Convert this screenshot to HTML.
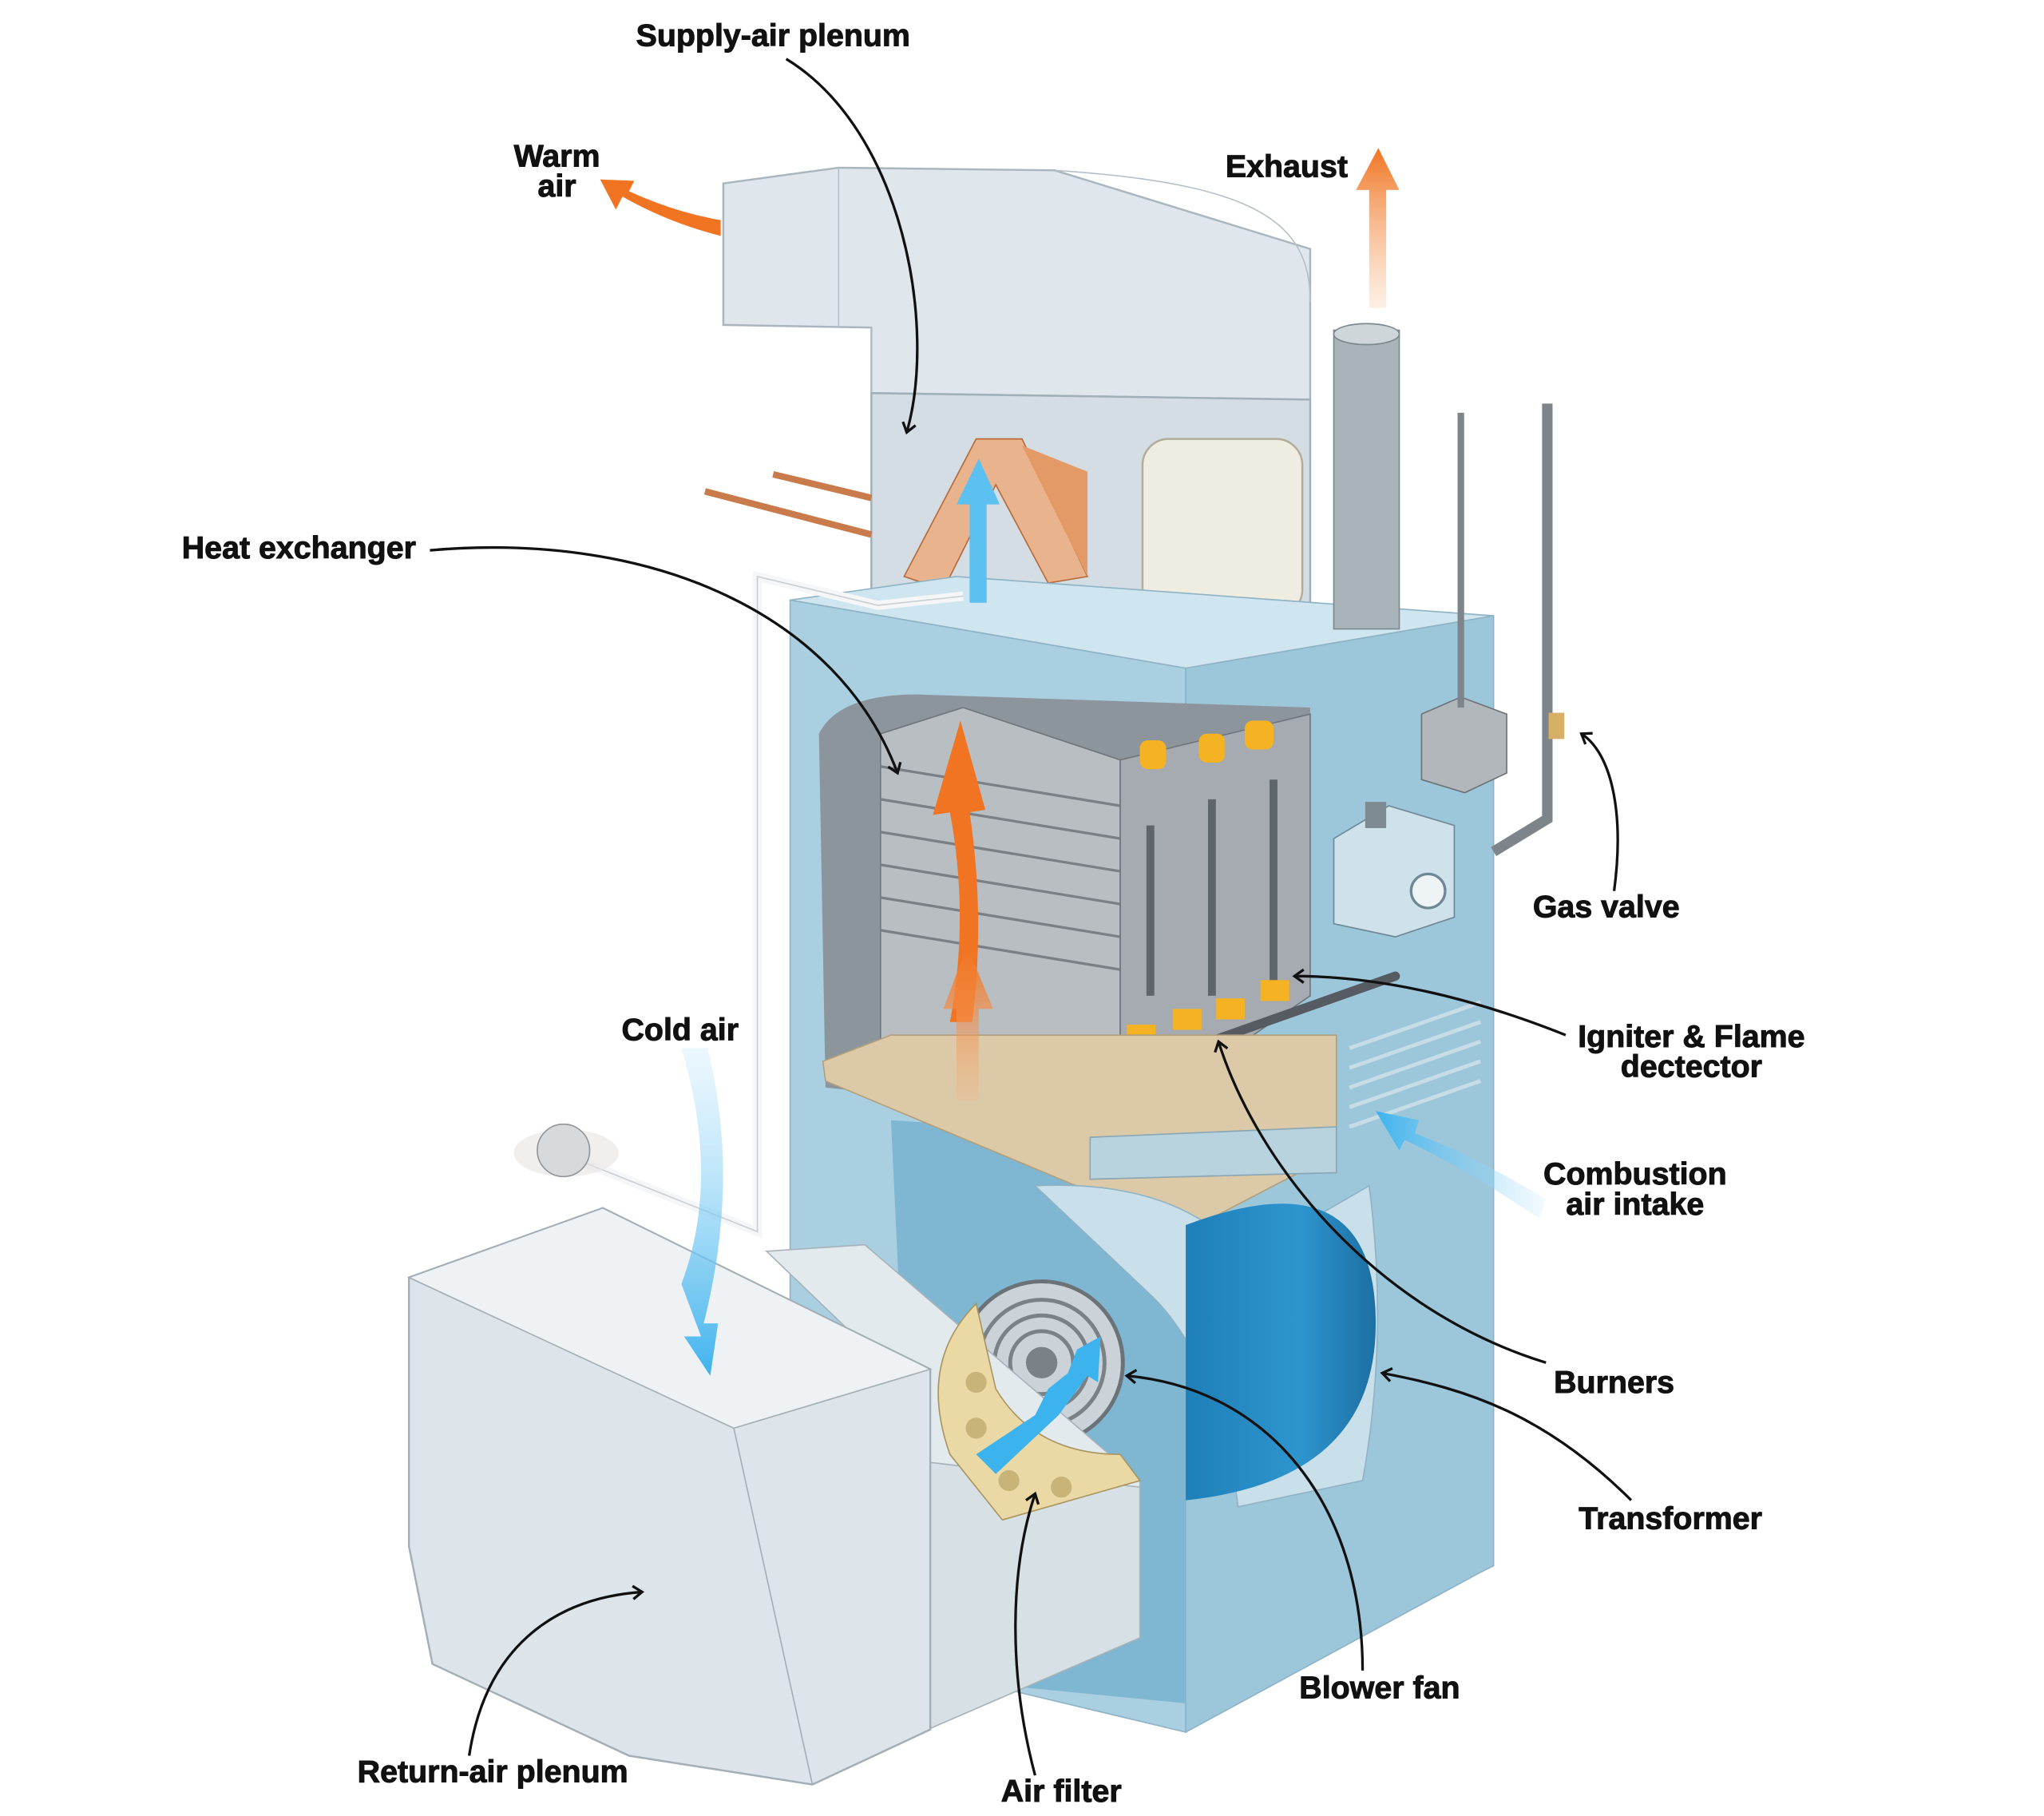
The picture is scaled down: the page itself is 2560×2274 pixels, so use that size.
<!DOCTYPE html>
<html><head><meta charset="utf-8"><style>
html,body{margin:0;padding:0;background:#fff}
svg{display:block}
text{font-family:"Liberation Sans",sans-serif;font-weight:bold;font-size:24px;fill:#111;text-anchor:middle;stroke:#111;stroke-width:0.6px}
</style></head><body>
<svg width="2560" height="2274" viewBox="0 0 1560 1386" xmlns="http://www.w3.org/2000/svg">
<defs>
<marker id="ah" markerWidth="12" markerHeight="12" refX="9" refY="6" orient="auto" markerUnits="userSpaceOnUse">
<path d="M2,1 L9,6 L2,11" fill="none" stroke="#111" stroke-width="2"/></marker>
<linearGradient id="og" x1="0" y1="1" x2="0" y2="0"><stop offset="0" stop-color="#f7b07a" stop-opacity="0.2"/><stop offset="1" stop-color="#f07422"/></linearGradient>
<linearGradient id="bg" x1="0" y1="0" x2="0" y2="1"><stop offset="0" stop-color="#bfe6fb" stop-opacity="0.3"/><stop offset="1" stop-color="#3db3ee"/></linearGradient>
<linearGradient id="bgh" x1="1" y1="0" x2="0" y2="0"><stop offset="0" stop-color="#bfe6fb" stop-opacity="0.2"/><stop offset="1" stop-color="#3db3ee"/></linearGradient>
<linearGradient id="blow" x1="0" y1="0" x2="1" y2="0"><stop offset="0" stop-color="#1f7fb8"/><stop offset="0.6" stop-color="#2e95cf"/><stop offset="1" stop-color="#1c6fa3"/></linearGradient>
</defs>

<polygon points="552,140 640,128 805,130 1000,190 1000,305 665,300 665,250 552,248" fill="#dfe7ec" stroke="#aab6bd" stroke-width="1.5"/>
<path d="M640,128 L640,250 M665,250 L665,300 M805,130 C960,140 1000,170 1000,230" fill="none" stroke="#b4c0c7"/>
<polygon points="665,300 1000,305 1000,460 840,495 665,465" fill="#d3dde3" stroke="#9fb0b9" stroke-width="1.5"/>
<polygon points="690,440 745,335 780,335 830,440 800,445 760,370 720,450" fill="#e9b38d" stroke="#b76a3a"/>
<polygon points="780,340 830,360 830,440" fill="#e39a66"/>
<rect x="872" y="335" width="122" height="135" rx="20" fill="#efece2" stroke="#b3ac98" stroke-width="1.5"/>
<line x1="538" y1="375" x2="665" y2="408" stroke="#c97b4b" stroke-width="5"/>
<line x1="590" y1="362" x2="665" y2="380" stroke="#c97b4b" stroke-width="5"/>

<polygon points="603,458 730,440 1140,470 905,510" fill="#cfe5ef" stroke="#8fb3c5"/>
<polygon points="603,458 905,510 905,1322 603,1250" fill="#a9cfe1" stroke="#8fb3c5"/>
<polygon points="905,510 1140,470 1140,1195 1130,1200 905,1322" fill="#9cc6da" stroke="#8fb3c5"/>
<path d="M625,560 Q640,530 700,530 L1000,540 L1000,730 L905,760 L905,860 L630,830 Z" fill="#8d959c"/>
<path d="M680,855 L905,870 L905,1300 L700,1280 Z" fill="#7fb6d2"/>
<polygon points="672,560 735,540 855,580 855,860 672,800" fill="#b9bec3" stroke="#6f767c"/>
<g stroke="#7a8086" stroke-width="2">
<line x1="672" y1="585" x2="855" y2="615"/><line x1="672" y1="610" x2="855" y2="640"/>
<line x1="672" y1="635" x2="855" y2="665"/><line x1="672" y1="660" x2="855" y2="690"/>
<line x1="672" y1="685" x2="855" y2="715"/><line x1="672" y1="710" x2="855" y2="740"/>
</g>
<polygon points="855,580 1000,545 1000,760 855,860" fill="#a5abb1" stroke="#6f767c"/>
<g stroke="#5e656b" stroke-width="6">
<line x1="878" y1="630" x2="878" y2="760"/><line x1="925" y1="610" x2="925" y2="760"/><line x1="972" y1="595" x2="972" y2="750"/>
</g>
<g fill="#f5b324"><rect x="870" y="565" width="20" height="22" rx="6"/><rect x="915" y="560" width="20" height="22" rx="6"/><rect x="950" y="550" width="22" height="22" rx="6"/>
<rect x="860" y="782" width="22" height="16"/><rect x="895" y="770" width="22" height="16"/><rect x="928" y="762" width="22" height="16"/><rect x="962" y="748" width="22" height="16"/></g>
<line x1="875" y1="812" x2="1065" y2="745" stroke="#555b61" stroke-width="7" stroke-linecap="round"/>
<polygon points="628,810 680,790 1020,790 1020,880 905,940 630,825" fill="#dcc9a8" stroke="#b49f7b"/>
<polygon points="832,868 1020,860 1020,895 832,900" fill="#b8d2de" stroke="#8aa7b6"/>
<g stroke="#c6dce7" stroke-width="3">
<line x1="1030" y1="800" x2="1130" y2="765"/><line x1="1030" y1="815" x2="1130" y2="780"/><line x1="1030" y1="830" x2="1130" y2="795"/>
<line x1="1030" y1="845" x2="1130" y2="810"/><line x1="1030" y1="860" x2="1130" y2="825"/></g>
<path d="M790,905 Q900,900 950,960 L1045,905 Q1060,1020 1040,1130 L945,1150 Q930,1040 880,990 Z" fill="#c9e0ea" stroke="#8fb3c5"/>
<path d="M905,935 Q1050,880 1050,1010 Q1050,1130 905,1145 Z" fill="url(#blow)"/>
<circle cx="795" cy="1040" r="62" fill="#ccd3d8" stroke="#6b7278" stroke-width="3"/>
<g fill="none" stroke="#7a8187" stroke-width="3"><circle cx="795" cy="1040" r="48"/><circle cx="795" cy="1040" r="36"/><circle cx="795" cy="1040" r="24"/></g>
<circle cx="795" cy="1040" r="12" fill="#7a8187"/>
<polygon points="1018,640 1060,615 1110,630 1110,700 1065,715 1018,705" fill="#cfe1ea" stroke="#6f8896"/>
<circle cx="1090" cy="680" r="13" fill="#eef3f5" stroke="#6f8896" stroke-width="2"/>
<rect x="1042" y="612" width="16" height="20" fill="#7e8a91"/>
<polygon points="1085,545 1115,532 1150,545 1150,590 1118,605 1085,595" fill="#b2b7bb" stroke="#6d7377"/>
<line x1="1115" y1="315" x2="1115" y2="540" stroke="#7d858b" stroke-width="5"/>
<path d="M1181,308 L1181,625 L1140,650" fill="none" stroke="#7d858b" stroke-width="8"/>
<rect x="1182" y="544" width="12" height="20" fill="#d6b067"/>
<rect x="1018" y="252" width="50" height="228" fill="#a9b3ba" stroke="#7d878e"/>
<ellipse cx="1043" cy="255" rx="25" ry="8" fill="#cfd6da" stroke="#7d878e"/>
<path d="M735,455 L670,462 L578,440 L578,940 L440,885" fill="none" stroke="#f4f6f7" stroke-width="7"/>
<path d="M735,455 L670,462 L578,440 L578,940 L440,885" fill="none" stroke="#c9cfd3" stroke-width="1"/>
<ellipse cx="432" cy="880" rx="40" ry="18" fill="#e8e4e2" opacity="0.6"/>
<circle cx="430" cy="878" r="20" fill="#d6dadd" stroke="#8e969b"/>
<polygon points="585,955 660,950 870,1130 870,1250 705,1320 710,1075" fill="#e3eaee" stroke="#a7b3ba"/>
<polygon points="700,1115 870,1135 870,1250 708,1320" fill="#d7e0e5" stroke="#a7b3ba"/>
<polygon points="312,975 460,922 710,1045 710,1320 620,1362 480,1340 330,1270 312,1180" fill="#dde5ea" stroke="#a3aeb5" stroke-width="1.5"/>
<polygon points="312,975 460,922 710,1045 560,1090" fill="#eef2f4" stroke="#a3aeb5"/>
<path d="M560,1090 L620,1362" stroke="#a3aeb5" fill="none"/>
<path d="M745,995 Q700,1040 725,1110 L765,1160 L870,1130 L855,1110 Q790,1110 760,1060 Z" fill="#ead9a4" stroke="#a99560"/>
<g fill="#c8b378"><circle cx="745" cy="1055" r="8"/><circle cx="745" cy="1090" r="8"/><circle cx="770" cy="1130" r="8"/><circle cx="810" cy="1135" r="8"/></g>

<path d="M550,180 Q510,170 475,150 L470,160 L458,137 L484,138 L480,146 Q515,162 550,168 Z" fill="#f07422"/>
<path d="M1045,235 L1045,145 L1035,145 L1052,113 L1068,145 L1058,145 L1058,235 Z" fill="url(#og)"/>
<path d="M725,780 Q740,700 725,620 L712,622 L733,550 L752,618 L740,620 Q752,700 742,780 Z" fill="#f07422"/>
<path d="M730,840 L730,770 L720,770 L738,722 L758,770 L747,770 L747,840 Z" fill="url(#og)"/>
<path d="M740,460 L740,385 L730,385 L747,350 L763,385 L753,385 L753,460 Z" fill="#5cc0f0"/>
<path d="M520,800 Q550,900 520,980 L535,1020 L522,1020 L542,1050 L548,1010 L537,1010 Q565,900 540,800 Z" fill="url(#bg)"/>
<path d="M1180,915 Q1120,880 1080,865 L1083,855 L1050,848 L1068,878 L1072,870 Q1115,890 1175,930 Z" fill="url(#bgh)"/>
<path d="M745,1110 L790,1080 L800,1060 L815,1048 L822,1030 L840,1020 L838,1055 L830,1050 L808,1080 L760,1125 Z" fill="#3db3ee"/>

<g fill="none" stroke="#111" stroke-width="2" marker-end="url(#ah)">
<path d="M600,45 C690,100 715,250 692,330"/>
<path d="M328,420 C500,405 640,470 685,590"/>
<path d="M1232,680 C1240,620 1230,575 1207,560"/>
<path d="M1195,790 C1120,760 1050,745 988,745"/>
<path d="M1180,1040 C1050,1000 960,890 930,795"/>
<path d="M1245,1145 C1180,1080 1120,1060 1055,1048"/>
<path d="M1040,1275 C1040,1150 970,1060 860,1050"/>
<path d="M358,1340 C370,1260 420,1220 490,1215"/>
<path d="M790,1355 C770,1280 770,1200 790,1140"/>
</g>

<text x="590" y="35">Supply-air plenum</text>
<text x="425" y="127">Warm</text><text x="425" y="150">air</text>
<text x="982" y="135">Exhaust</text>
<text x="228" y="426">Heat exchanger</text>
<text x="519" y="794">Cold air</text>
<text x="1226" y="700">Gas valve</text>
<text x="1291" y="799">Igniter &amp; Flame</text><text x="1291" y="822">dectector</text>
<text x="1248" y="904">Combustion</text><text x="1248" y="927">air intake</text>
<text x="1232" y="1063">Burners</text>
<text x="1275" y="1167">Transformer</text>
<text x="1053" y="1296">Blower fan</text>
<text x="376" y="1360">Return-air plenum</text>
<text x="810" y="1375">Air filter</text>
</svg>
</body></html>
